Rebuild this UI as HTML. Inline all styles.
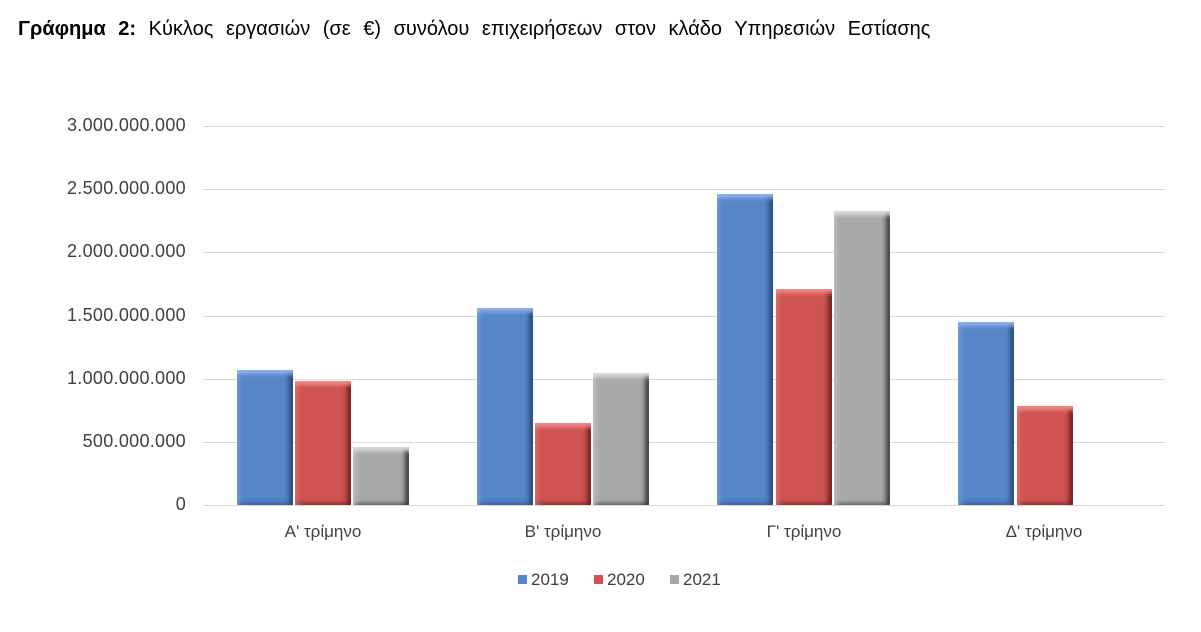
<!DOCTYPE html>
<html><head><meta charset="utf-8"><style>
body{margin:0;width:1201px;height:632px;background:#fff;position:relative;font-family:"Liberation Sans","DejaVu Sans",sans-serif;overflow:hidden}
.t{position:absolute;left:18px;top:18px;font-size:20px;color:#000;white-space:nowrap;word-spacing:7px}
.g{position:absolute;left:203px;width:962px;height:1px;background:#d9d9d9}
.yl{position:absolute;right:1015px;font-size:18px;color:#404040;text-align:right;letter-spacing:0.3px}
.b{position:absolute;width:56px;border-radius:1px}
.bl{background:#5586c9;box-shadow:inset 0 7px 4px -3px #8fb4e6,inset -6px 0 5px -2px #2a4a78,inset 5px 0 4px -2px #6d98d4,inset 0 -4px 4px -2px #3a5f95}
.rd{background:#cf5350;box-shadow:inset 0 7px 4px -3px #ee8c89,inset -6px 0 5px -2px #6e2422,inset 5px 0 4px -2px #dc6a67,inset 0 -4px 4px -2px #8a302e}
.gr{background:#a8a8a8;box-shadow:inset 0 7px 4px -3px #dcdcdc,inset -6px 0 5px -2px #3e3e3e,inset 5px 0 4px -2px #bdbdbd,inset 0 -4px 4px -2px #666}
.xl{position:absolute;top:522px;font-size:17px;color:#404040;width:200px;text-align:center}
.lg{position:absolute;top:570px;font-size:17px;color:#404040}
.sw{display:inline-block;width:9px;height:9px;margin-right:4px;vertical-align:1px}
</style></head><body>
<div class="t"><b>Γράφημα 2:</b> Κύκλος εργασιών (σε €) συνόλου επιχειρήσεων στον κλάδο Υπηρεσιών Εστίασης</div>
<div class="g" style="top:126px"></div><div class="g" style="top:189px"></div><div class="g" style="top:252px"></div><div class="g" style="top:316px"></div><div class="g" style="top:379px"></div><div class="g" style="top:442px"></div><div class="g" style="top:505px"></div>
<div class="yl" style="top:115px">3.000.000.000</div>
<div class="yl" style="top:178px">2.500.000.000</div>
<div class="yl" style="top:241px">2.000.000.000</div>
<div class="yl" style="top:305px">1.500.000.000</div>
<div class="yl" style="top:368px">1.000.000.000</div>
<div class="yl" style="top:431px">500.000.000</div>
<div class="yl" style="top:494px">0</div>
<div class="b bl" style="left:237px;top:370px;height:135px"></div>
<div class="b rd" style="left:295px;top:381px;height:124px"></div>
<div class="b gr" style="left:353px;top:447px;height:58px"></div>
<div class="b bl" style="left:477px;top:308px;height:197px"></div>
<div class="b rd" style="left:535px;top:423px;height:82px"></div>
<div class="b gr" style="left:593px;top:373px;height:132px"></div>
<div class="b bl" style="left:717px;top:194px;height:311px"></div>
<div class="b rd" style="left:776px;top:289px;height:216px"></div>
<div class="b gr" style="left:834px;top:211px;height:294px"></div>
<div class="b bl" style="left:958px;top:322px;height:183px"></div>
<div class="b rd" style="left:1017px;top:406px;height:99px"></div>
<div class="xl" style="left:223px">Α' τρίμηνο</div>
<div class="xl" style="left:463px">Β' τρίμηνο</div>
<div class="xl" style="left:704px">Γ' τρίμηνο</div>
<div class="xl" style="left:944px">Δ' τρίμηνο</div>
<div class="lg" style="left:518px"><span class="sw" style="background:#5586c9"></span>2019</div>
<div class="lg" style="left:594px"><span class="sw" style="background:#cf5350"></span>2020</div>
<div class="lg" style="left:670px"><span class="sw" style="background:#a8a8a8"></span>2021</div>
</body></html>
